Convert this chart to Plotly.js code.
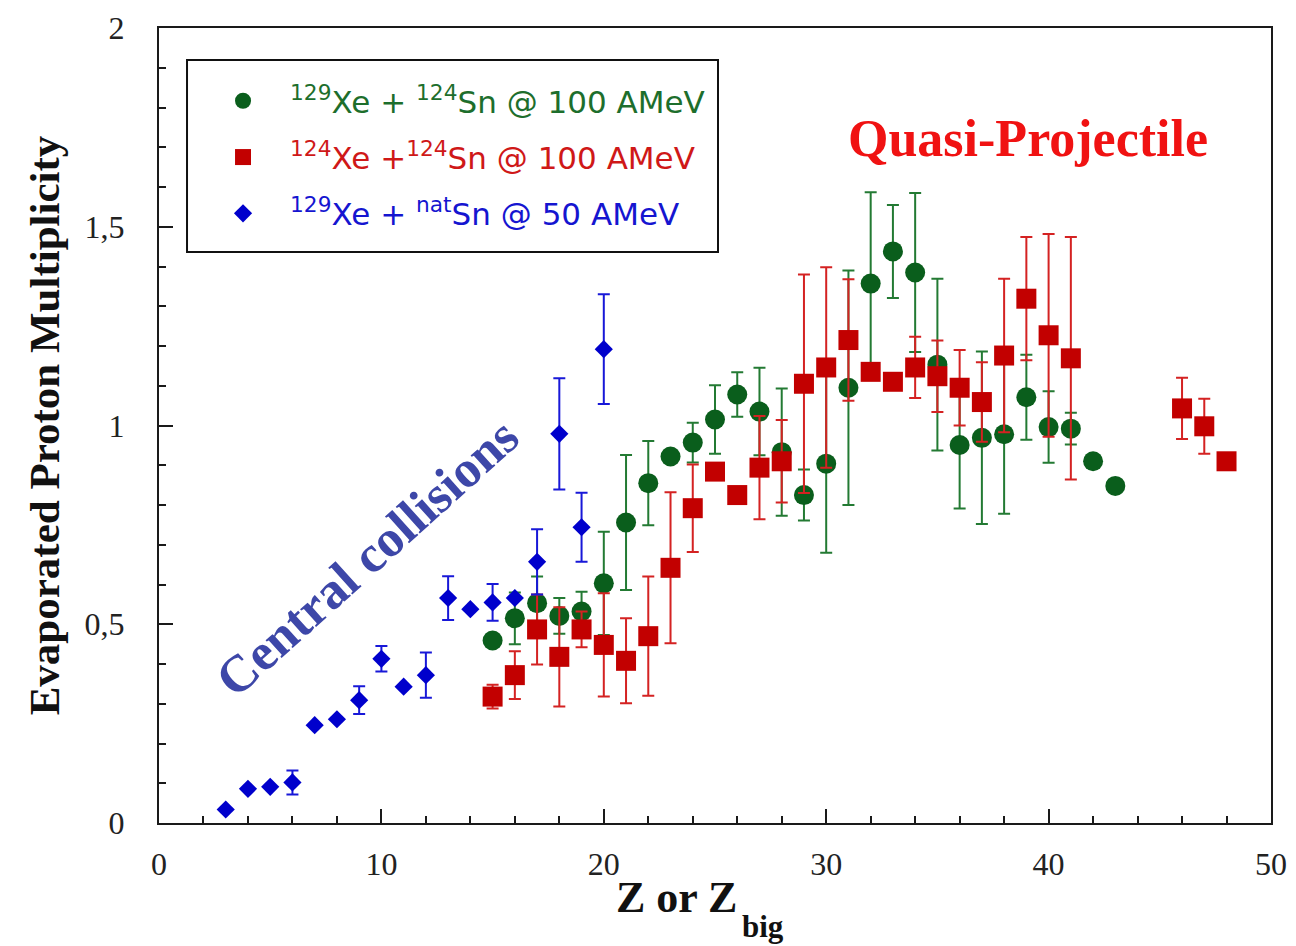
<!DOCTYPE html>
<html>
<head>
<meta charset="utf-8">
<script src="https://cdn.plot.ly/plotly-3.0.1.min.js"></script>
<style>
  html, body { margin: 0; padding: 0; background: #ffffff; }
  #chart { width: 1296px; height: 946px; }
</style>
</head>
<body>
<div id="chart"></div>
<script>
// 129Xe + 124Sn @ 100 AMeV (quasi-projectile)
const greenZ = [15, 16, 17, 18, 19, 20, 21, 22, 23, 24, 25, 26, 27, 28, 29, 30, 31, 32, 33, 34, 35, 36, 37, 38, 39, 40, 41, 42, 43];
const greenM = [0.459, 0.515, 0.553, 0.521, 0.532, 0.603, 0.756, 0.855, 0.922, 0.957, 1.015, 1.078, 1.035, 0.933, 0.825, 0.904, 1.095, 1.357, 1.438, 1.385, 1.153, 0.951, 0.969, 0.978, 1.071, 0.996, 0.992, 0.910, 0.848];
const greenErr = [0, 0.065, 0.067, 0.045, 0.05, 0.13, 0.17, 0.106, 0, 0.05, 0.086, 0.056, 0.11, 0.16, 0.064, 0.224, 0.295, 0.23, 0.117, 0.2, 0.216, 0.16, 0.217, 0.2, 0.107, 0.09, 0.04, 0, 0];

// 124Xe + 124Sn @ 100 AMeV (quasi-projectile)
const redZ = [15, 16, 17, 18, 19, 20, 21, 22, 23, 24, 25, 26, 27, 28, 29, 30, 31, 32, 33, 34, 35, 36, 37, 38, 39, 40, 41, 46, 47, 48];
const redM = [0.318, 0.372, 0.487, 0.418, 0.487, 0.448, 0.408, 0.470, 0.642, 0.792, 0.884, 0.825, 0.894, 0.910, 1.105, 1.146, 1.215, 1.135, 1.110, 1.146, 1.124, 1.095, 1.059, 1.176, 1.319, 1.227, 1.169, 1.043, 0.998, 0.910];
const redErr = [0.03, 0.06, 0.088, 0.125, 0.045, 0.13, 0.107, 0.15, 0.19, 0.11, 0, 0, 0.13, 0.104, 0.275, 0.252, 0.153, 0, 0, 0.077, 0.09, 0.095, 0.1, 0.193, 0.155, 0.255, 0.305, 0.077, 0.069, 0];

// 129Xe + natSn @ 50 AMeV (central collisions)
const blueZ = [3, 4, 5, 6, 7, 8, 9, 10, 11, 12, 13, 14, 15, 16, 17, 18, 19, 20];
const blueM = [0.034, 0.086, 0.091, 0.102, 0.246, 0.261, 0.309, 0.413, 0.343, 0.372, 0.566, 0.538, 0.555, 0.566, 0.657, 0.979, 0.744, 1.192];
const blueErr = [0, 0, 0, 0.03, 0, 0, 0.035, 0.032, 0, 0.057, 0.055, 0, 0.046, 0, 0.082, 0.14, 0.087, 0.138];

const seriesNames = [
  '<span style="color:#1d6e2c"><sup>129</sup>Xe + <sup>124</sup>Sn @ 100 AMeV</span>',
  '<span style="color:#cf1818"><sup>124</sup>Xe +<sup>124</sup>Sn @ 100 AMeV</span>',
  '<span style="color:#1515d0"><sup>129</sup>Xe + <sup>nat</sup>Sn @ 50 AMeV</span>'
];

const serif = 'Liberation Serif, Times New Roman, serif';

function errBars(arr, color) {
  return { type: 'data', array: arr, visible: true, color: color, thickness: 2, width: 6 };
}

const traces = [
  {
    x: greenZ, y: greenM, name: seriesNames[0], legendgroup: 'g1',
    type: 'scatter', mode: 'markers',
    marker: { symbol: 'circle', size: 20, color: '#0a5e1c' },
    error_y: errBars(greenErr, '#237a33')
  },
  {
    x: redZ, y: redM, name: seriesNames[1], legendgroup: 'g2',
    type: 'scatter', mode: 'markers',
    marker: { symbol: 'square', size: 20, color: '#c20000' },
    error_y: errBars(redErr, '#d42222')
  },
  {
    x: blueZ, y: blueM, name: seriesNames[2], legendgroup: 'g3',
    type: 'scatter', mode: 'markers',
    marker: { symbol: 'diamond', size: 14, color: '#0000cc' },
    error_y: errBars(blueErr, '#1818d8')
  }
];

const layout = {
  width: 1296, height: 946,
  margin: { l: 159, r: 25, t: 28, b: 123 },
  paper_bgcolor: '#ffffff', plot_bgcolor: '#ffffff',
  separators: ', ',
  showlegend: true,
  legend: {
    x: 0.0333, y: 0.942, xanchor: 'left', yanchor: 'top',
    bgcolor: 'rgba(0,0,0,0)', borderwidth: 0,
    font: { family: 'DejaVu Sans, Verdana, sans-serif', size: 31 },
    tracegroupgap: 13, itemwidth: 84
  },
  // legend frame
  shapes: [
    {
      type: 'rect', xref: 'paper', yref: 'paper',
      x0: 0.0252, x1: 0.5027, y0: 0.7182, y1: 0.9597,
      line: { color: '#111111', width: 2 }, fillcolor: 'rgba(0,0,0,0)', layer: 'below'
    }
  ],
  xaxis: {
    range: [0, 50], dtick: 10, tick0: 0,
    showgrid: false, zeroline: false,
    showline: true, linecolor: '#1a1a1a', linewidth: 2, mirror: true,
    ticks: 'inside', ticklen: 14, tickwidth: 2, tickcolor: '#1a1a1a',
    minor: { dtick: 2, ticks: 'inside', ticklen: 7, tickwidth: 2, tickcolor: '#1a1a1a', showgrid: false },
    tickfont: { family: serif, size: 32, color: '#222222' },
    ticklabelstandoff: 12
  },
  yaxis: {
    range: [0, 2], dtick: 0.5, tick0: 0,
    showgrid: false, zeroline: false,
    showline: true, linecolor: '#1a1a1a', linewidth: 2, mirror: true,
    ticks: 'inside', ticklen: 14, tickwidth: 2, tickcolor: '#1a1a1a',
    minor: { dtick: 0.1, ticks: 'inside', ticklen: 7, tickwidth: 2, tickcolor: '#1a1a1a', showgrid: false },
    tickfont: { family: serif, size: 32, color: '#222222' },
    ticklabelstandoff: 26,
    title: { text: '<b>Evaporated Proton Multiplicity</b>', font: { family: serif, size: 43, color: '#111111' }, standoff: 12 }
  },
  annotations: [
    // x-axis title, with a deep subscript
    {
      x: 0.4658, y: -0.0943, xref: 'paper', yref: 'paper', showarrow: false,
      xanchor: 'center', yanchor: 'middle',
      text: '<b>Z or Z</b>',
      font: { family: serif, size: 44, color: '#111111' }
    },
    {
      x: 0.5436, y: -0.1308, xref: 'paper', yref: 'paper', showarrow: false,
      xanchor: 'center', yanchor: 'middle',
      text: '<b>big</b>',
      font: { family: serif, size: 31, color: '#111111' }
    },
    {
      x: 39.07, y: 1.723, xref: 'x', yref: 'y', showarrow: false,
      text: '<b>Quasi-Projectile</b>',
      font: { family: serif, size: 52, color: '#f01212' }
    },
    {
      x: 9.35, y: 0.669, xref: 'x', yref: 'y', showarrow: false,
      text: '<b>Central collisions</b>', textangle: -42,
      font: { family: serif, size: 52, color: '#3d47a8' }
    }
  ]
};

Plotly.newPlot('chart', traces, layout, { staticPlot: true, displayModeBar: false });
</script>
</body>
</html>
